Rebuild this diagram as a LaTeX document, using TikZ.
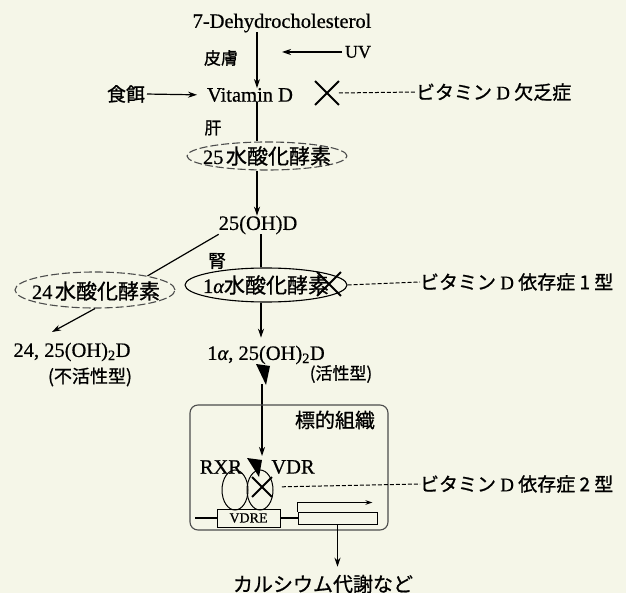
\documentclass[tikz,border=0pt]{standalone}
\usepackage{fontspec}
\setmainfont{Liberation Serif}[FakeBold=0.6]
\newfontfamily\jp{Noto Sans CJK JP}[FakeBold=0.9]
\usetikzlibrary{arrows.meta,shapes.geometric,shapes.misc,calc}
\definecolor{bg}{RGB}{245,246,232}
\newcommand{\lat}[1]{{\fontsize{20.5}{22}\selectfont #1}}
\newcommand{\J}[2]{{\fontsize{#1}{#1}\selectfont\jp #2}}
\begin{document}
\begin{tikzpicture}[x=1pt,y=-1pt,
  lbl/.style={inner sep=0pt,outer sep=0pt},
  arr/.style={-{Stealth[length=9pt,width=6pt]},line width=1.2pt},
  arrsm/.style={-{Stealth[length=7pt,width=4.5pt]},line width=1pt},
  ln/.style={line width=1.2pt},
  dsh/.style={dash pattern=on 4pt off 2pt,line width=1pt},
  xmark/.style={draw,cross out,line width=1.8pt,minimum width=#1,minimum height=#1,inner sep=0pt},
  enz/.style={draw,ellipse,inner sep=0pt,line width=1.1pt},
  enzd/.style={enz,draw=black!70,dash pattern=on 8pt off 3pt}]
\fill[bg] (0,0) rectangle (626,593);
\useasboundingbox (0,0) rectangle (626,593);
\coordinate (ax) at (257,0);
\coordinate (ax2) at (261,0);
% top
\node[lbl] (dhc) at (282,23) {\lat{7-Dehydrocholesterol}};
\node[lbl] (vitd) at (250,95) {\lat{Vitamin D}};
\draw[arr] (dhc.south -| ax) -- (vitd.north -| ax);
\node[lbl] (skin) at (221,58) {\J{17}{皮膚}};
\node[lbl] (uv) at (358,52) {{\fontsize{18}{18}\selectfont UV}};
\coordinate (uvend) at (282,52);
\draw[arr,shorten <=3pt] (uv.west) -- (uvend);
\node[lbl] (diet) at (126,94) {\J{19}{食餌}};
\draw[arr,shorten <=2pt,shorten >=10pt] (diet.east) -- (vitd.west);
\node[xmark=22] (x1) at (327,93) {};
\node[lbl,anchor=west] (def1) at (416,92) {\J{19}{ビタミン \textrm{D} 欠乏症}};
\draw[dsh] (x1.east) -- (def1.west);
% liver
\node[lbl] (liver) at (213,128) {\J{17}{肝}};
\node[enzd,minimum width=160,minimum height=28] (e25) at (267,156) {};
\node[lbl] (t25) at (267,156) {\lat{25} \J{21}{水酸化酵素}};
\draw[ln] (vitd.south -| ax) -- (ax |- e25.north);
\node[lbl] (oh25) at (258,225) {\lat{25(OH)D}};
\draw[arr] (ax |- e25.south) -- (oh25.north -| ax);
% kidney
\node[lbl] (kid) at (217,261) {\J{18}{腎}};
\node[enz,minimum width=162,minimum height=34] (e1a) at (266,285) {};
\node[lbl] (t1a) at (266,285) {\lat{1{\itshape α}}\J{21}{水酸化酵素}};
\node[xmark=22] (x2) at (329,284) {};
\draw[ln] (oh25.south -| ax2) -- (ax2 |- e1a.north);
\node[lbl,anchor=west] (def2) at (420,282) {\J{19}{ビタミン \textrm{D} 依存症 1 型}};
\draw[dsh] (e1a.east) -- (def2.west);
% 24-hydroxylase
\node[enzd,minimum width=160,minimum height=36] (e24) at (95,290) {};
\node[lbl] (t24) at (96,291) {\lat{24} \J{21}{水酸化酵素}};
\draw[ln] (oh25.south west) -- (e24.15);
\node[lbl] (inact) at (72,352) {\lat{24, 25(OH)\textsubscript{2}D}};
\node[lbl] (inact2) at (90,377) {\J{18}{(不活性型)}};
\coordinate (p24) at (52,332);
\draw[arr] (e24.south) -- (p24);
% active form
\node[lbl] (act) at (266,355) {\lat{1{\itshape α}, 25(OH)\textsubscript{2}D}};
\node[lbl] (act2) at (341,374) {\J{17}{(活性型)}};
\draw[arr,shorten >=8pt] (ax2 |- e1a.south) -- (ax2 |- act.north);
\fill (256,364) -- (270,366) -- (266,385) -- cycle;
\coordinate (t1) at (262,384);
\coordinate (t2) at (262,456);
\draw[arr] (t1) -- (t2);
% target tissue
\node[draw=black!70,line width=1.1pt,rounded corners=8pt,minimum width=198,minimum height=125,inner sep=0pt] (tbox) at (289,467.5) {};
\node[lbl] (tissue) at (335,420) {\J{20}{標的組織}};
\fill (247,458) -- (262,460) -- (259,477) -- cycle;
\node[lbl] (rxr) at (221,467) {\lat{RXR}};
\node[lbl] (vdr) at (293,467) {\lat{VDR}};
\node[draw,ellipse,line width=1pt,minimum width=26,minimum height=40,inner sep=0pt] (erxr) at (235,490) {};
\node[draw,ellipse,line width=1pt,minimum width=26,minimum height=40,inner sep=0pt] (evdr) at (260,490) {};
\node[xmark=18] (x3) at (262,487) {};
\node[lbl,anchor=west] (def3) at (420,484) {\J{19}{ビタミン \textrm{D} 依存症 2 型}};
\draw[dsh,shorten <=10pt] (x3.east) -- (def3.west);
% DNA
\node[draw,line width=1pt,minimum width=63,minimum height=18,inner sep=0pt] (vdre) at (248.5,518) {{\fontsize{14}{14}\selectfont VDRE}};
\coordinate (dnaL) at (195,518);
\draw[ln] (dnaL) -- (vdre.west);
\node[draw,line width=1pt,minimum width=79,minimum height=12,inner sep=0pt] (gene) at (337.5,518) {};
\draw[ln] (vdre.east) -- (gene.west);
\draw[arrsm] (gene.north west) -- ++(0,-9) -- ++(75,0);
\node[lbl] (ca) at (323,584) {\J{20}{カルシウム代謝など}};
\draw[arr,shorten >=8pt] (gene.south) -- (gene.south |- ca.north);
\end{tikzpicture}
\end{document}
